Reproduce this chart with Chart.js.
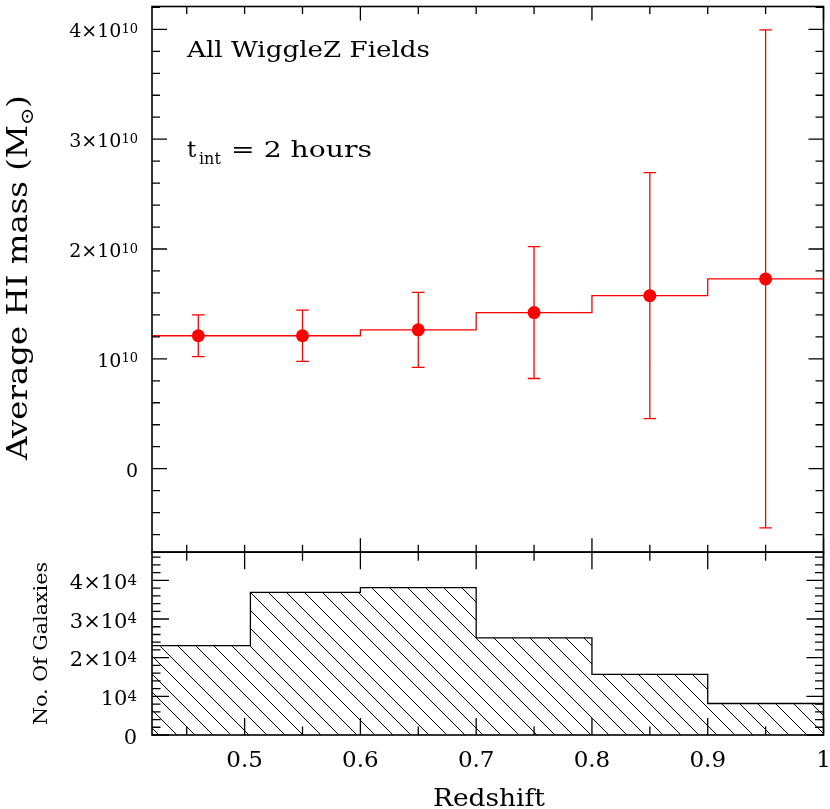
<!DOCTYPE html>
<html lang="en">
<head>
<meta charset="utf-8" />
<title>Average HI mass against redshift</title>
<script src="https://cdn.jsdelivr.net/npm/chart.js@4.4.0/dist/chart.umd.min.js"></script>
<style>
  html, body { margin: 0; padding: 0; background: #fff; }
  canvas { display: block; }
</style>
</head>
<body>
<canvas id="hiChart" width="830" height="809"></canvas>
<script>
// histogram of galaxies per redshift bin (bottom panel)
const binEdges = [0.42, 0.505, 0.6, 0.7, 0.8, 0.9, 1.0];
const galaxyCounts = [23100, 36900, 38100, 25100, 15700, 8150];

// stacked HI mass per bin (top panel)
const massEdges = [0.42, 0.5, 0.6, 0.7, 0.8, 0.9, 1.0];
const zPoints = [0.46, 0.55, 0.65, 0.75, 0.85, 0.95];
const hiMass = [1.21e10, 1.21e10, 1.264e10, 1.421e10, 1.575e10, 1.728e10];
const hiErr = [0.19e10, 0.233e10, 0.341e10, 0.60e10, 1.12e10, 2.267e10];

// axis ticks; y labels are mantissa part + exponent
const xTicks = [0.5, 0.6, 0.7, 0.8, 0.9, 1];
const xLabels = ['0.5', '0.6', '0.7', '0.8', '0.9', '1'];
const massTicks = [0, 1e10, 2e10, 3e10, 4e10];
const massBase = ['0', '10', '2×10', '3×10', '4×10'];
const massExp = ['', '10', '10', '10', '10'];
const countTicks = [0, 1e4, 2e4, 3e4, 4e4];
const countBase = ['0', '10', '2×10', '3×10', '4×10'];
const countExp = ['', '4', '4', '4', '4'];

const RED = '#ff0000';
const FONT = 'DejaVu Serif';

function stepPoints(edges, vals) {
  const pts = vals.map((v, i) => ({ x: edges[i], y: v }));
  pts.push({ x: edges[edges.length - 1], y: vals[vals.length - 1] });
  return pts;
}

function hatch() {
  const s = 18;
  const c = document.createElement('canvas');
  c.width = s; c.height = s;
  const g = c.getContext('2d');
  g.strokeStyle = '#000';
  g.lineWidth = 1;
  g.beginPath();
  for (let k = -1; k <= 1; k++) {
    g.moveTo(k * s - 2, -2);
    g.lineTo(k * s + s + 2, s + 2);
  }
  g.stroke();
  return g.createPattern(c, 'repeat');
}

function range(from, to, step) {
  const out = [];
  for (let v = from; v <= to + step * 1e-6; v += step) out.push(+v.toPrecision(8));
  return out;
}

function hTicks(ctx, scale, values, top, bottom, len) {
  values.forEach(v => {
    const p = scale.getPixelForValue(v);
    if (p < scale.left - 0.5 || p > scale.right + 0.5) return;
    ctx.moveTo(p, top); ctx.lineTo(p, top + len);
    ctx.moveTo(p, bottom); ctx.lineTo(p, bottom - len);
  });
}

function vTicks(ctx, scale, values, left, right, len) {
  values.forEach(v => {
    const p = scale.getPixelForValue(v);
    if (p < scale.top - 0.5 || p > scale.bottom + 0.5) return;
    ctx.moveTo(left, p); ctx.lineTo(left + len, p);
    ctx.moveTo(right, p); ctx.lineTo(right - len, p);
  });
}

// y tick labels with a raised exponent, right aligned at xr
function sciLabels(ctx, scale, values, bases, exps, xr, size, supSize) {
  const capH = 0.73 * size, supH = 0.73 * supSize;
  ctx.textAlign = 'left';
  ctx.textBaseline = 'alphabetic';
  values.forEach((v, i) => {
    const p = scale.getPixelForValue(v);
    ctx.font = `${supSize}px "${FONT}"`;
    const we = exps[i] ? ctx.measureText(exps[i]).width : 0;
    ctx.font = `${size}px "${FONT}"`;
    const wb = ctx.measureText(bases[i]).width;
    const base = p + capH / 2 + 1;
    ctx.fillText(bases[i], xr - we - wb, base);
    if (exps[i]) {
      ctx.font = `${supSize}px "${FONT}"`;
      ctx.fillText(exps[i], xr - we, base - capH + supH);
    }
  });
}

// text stretched to the width it has in the original figure
function wideText(ctx, text, x, y, width) {
  const w = ctx.measureText(text).width;
  ctx.save();
  ctx.translate(x, y);
  ctx.scale(width / w, 1);
  ctx.fillText(text, 0, 0);
  ctx.restore();
}

// no extra room for half labels at the ends of the axes
function noEdgePadding(s) {
  s.paddingTop = 0; s.paddingBottom = 0;
  s.paddingLeft = 0; s.paddingRight = 0;
}

const panels = {
  id: 'panels',
  beforeDatasetsDraw(chart) {
    const ctx = chart.ctx, x = chart.scales.x, y = chart.scales.yTop;
    const cap = 6.3;
    ctx.save();
    ctx.strokeStyle = RED;
    ctx.lineWidth = 1.3;
    ctx.beginPath();
    zPoints.forEach((z, i) => {
      const px = x.getPixelForValue(z);
      const hi = y.getPixelForValue(hiMass[i] + hiErr[i]);
      const lo = y.getPixelForValue(hiMass[i] - hiErr[i]);
      ctx.moveTo(px, hi); ctx.lineTo(px, lo);
      ctx.moveTo(px - cap, hi); ctx.lineTo(px + cap, hi);
      ctx.moveTo(px - cap, lo); ctx.lineTo(px + cap, lo);
    });
    ctx.stroke();
    ctx.restore();
  },
  afterDraw(chart) {
    const ctx = chart.ctx;
    const { x, yTop, yBot } = chart.scales;
    const L = x.left, R = x.right;
    ctx.save();
    ctx.strokeStyle = '#000';

    // frames
    ctx.lineWidth = 1.6;
    ctx.strokeRect(L, yTop.top, R - L, yTop.bottom - yTop.top);
    ctx.strokeRect(L, yBot.top, R - L, yBot.bottom - yBot.top);

    // ticks, pointing inwards
    ctx.lineWidth = 1.3;
    ctx.beginPath();
    hTicks(ctx, x, range(0.45, 1.0, 0.05), yTop.top, yTop.bottom, 7.5);
    hTicks(ctx, x, range(0.6, 1.0, 0.2), yTop.top, yTop.bottom, 14);
    vTicks(ctx, yTop, range(-6e9, 4.2e10, 2e9), L, R, 8);
    vTicks(ctx, yTop, massTicks, L, R, 15);
    hTicks(ctx, x, range(0.45, 1.0, 0.05), yBot.top, yBot.bottom, 8.5);
    hTicks(ctx, x, xTicks, yBot.top, yBot.bottom, 17);
    vTicks(ctx, yBot, range(0, 4.6e4, 2e3), L, R, 8.5);
    vTicks(ctx, yBot, countTicks, L, R, 17);
    ctx.stroke();

    ctx.fillStyle = '#000';
    sciLabels(ctx, yTop, massTicks, massBase, massExp, L - 14, 19, 13);
    sciLabels(ctx, yBot, countTicks, countBase, countExp, L - 15, 21, 15);

    // titles and notes
    ctx.textBaseline = 'alphabetic';
    ctx.textAlign = 'left';

    ctx.font = `24px "${FONT}"`;
    wideText(ctx, 'Redshift', 433, 806, 112);

    ctx.font = `23px "${FONT}"`;
    wideText(ctx, 'All WiggleZ Fields', 187, 57, 243);
    ctx.fillText('t', 187, 157);
    wideText(ctx, '= 2 hours', 231, 157, 141);
    ctx.font = `16px "${FONT}"`;
    ctx.fillText('int', 199, 164);

    // rotated axis titles
    ctx.save();
    ctx.translate(47, 643.5);
    ctx.rotate(-Math.PI / 2);
    ctx.font = `19px "${FONT}"`;
    const galW = ctx.measureText('No. Of Galaxies').width;
    ctx.scale(163 / galW, 1);
    ctx.fillText('No. Of Galaxies', -galW / 2, 0);
    ctx.restore();

    ctx.save();
    ctx.translate(27, 277.5);
    ctx.rotate(-Math.PI / 2);
    ctx.font = `28px "${FONT}"`;
    const mainT = 'Average HI mass (M';
    const wMain = ctx.measureText(mainT).width;
    const wClose = ctx.measureText(')').width;
    ctx.font = `18px "${FONT}"`;
    const wSun = ctx.measureText('⊙').width;
    const total = wMain + wSun + wClose;
    ctx.scale(365 / total, 1);
    const x0 = -total / 2;
    ctx.fillText('⊙', x0 + wMain, 6);
    ctx.font = `28px "${FONT}"`;
    ctx.fillText(mainT, x0, 0);
    ctx.fillText(')', x0 + wMain + wSun, 0);
    ctx.restore();

    ctx.restore();
  }
};

Chart.defaults.font.family = FONT;
Chart.defaults.color = '#000';

const ctx = document.getElementById('hiChart').getContext('2d');

new Chart(ctx, {
  type: 'scatter',
  data: {
    datasets: [
      {
        label: 'No. of galaxies',
        data: stepPoints(binEdges, galaxyCounts),
        yAxisID: 'yBot',
        showLine: true,
        stepped: 'before',
        borderColor: '#000',
        borderWidth: 1.3,
        backgroundColor: hatch(),
        fill: 'origin',
        pointRadius: 0
      },
      {
        label: 'HI mass bins',
        data: stepPoints(massEdges, hiMass),
        yAxisID: 'yTop',
        showLine: true,
        stepped: 'before',
        borderColor: RED,
        borderWidth: 1.3,
        fill: false,
        pointRadius: 0
      },
      {
        label: 'Average HI mass',
        data: zPoints.map((z, i) => ({ x: z, y: hiMass[i] })),
        yAxisID: 'yTop',
        showLine: false,
        pointRadius: 6.5,
        pointBackgroundColor: RED,
        pointBorderWidth: 0
      }
    ]
  },
  options: {
    responsive: false,
    animation: false,
    devicePixelRatio: 1,
    layout: { padding: { top: 2, right: 5, left: 0, bottom: 0 } },
    plugins: { legend: { display: false }, tooltip: { enabled: false } },
    scales: {
      x: {
        type: 'linear',
        min: 0.42,
        max: 1.0,
        afterFit(s) { s.height = 74; noEdgePadding(s); },
        afterBuildTicks(s) { s.ticks = xTicks.map(v => ({ value: v })); },
        ticks: {
          callback: (v) => xLabels[xTicks.indexOf(v)],
          font: { size: 23 },
          padding: 12,
          maxRotation: 0,
          autoSkip: false
        },
        grid: { display: false, drawTicks: false },
        border: { display: false }
      },
      // left stacks are placed in reverse order: the first one ends at the bottom
      yBot: {
        type: 'linear',
        position: 'left',
        stack: 'panels',
        stackWeight: 184,
        min: 0,
        max: 4.73e4,
        afterFit(s) { s.width = 152; noEdgePadding(s); },
        afterBuildTicks(s) { s.ticks = countTicks.map(v => ({ value: v })); },
        ticks: { display: false, autoSkip: false },
        grid: { display: false, drawTicks: false },
        border: { display: false }
      },
      yTop: {
        type: 'linear',
        position: 'left',
        stack: 'panels',
        stackWeight: 549,
        min: -0.76e10,
        max: 4.208e10,
        afterFit(s) { s.width = 152; noEdgePadding(s); },
        afterBuildTicks(s) { s.ticks = massTicks.map(v => ({ value: v })); },
        ticks: { display: false, autoSkip: false },
        grid: { display: false, drawTicks: false },
        border: { display: false }
      }
    }
  },
  plugins: [panels]
});
</script>
</body>
</html>
